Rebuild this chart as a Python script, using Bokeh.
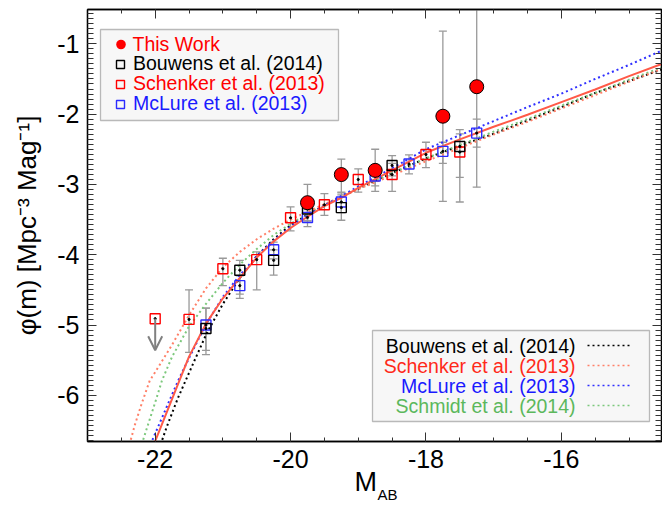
from bokeh.plotting import figure
from bokeh.models import (Range1d, LinearAxis, SingleIntervalTicker, Whisker, TeeHead,
                          ColumnDataSource, Arrow, OpenHead, BoxAnnotation, Title, Label,
                          Legend, LegendItem, PrintfTickFormatter, CustomJSTickFormatter)
from bokeh.embed import file_html
from bokeh.resources import INLINE

FONT = "Liberation Sans"

# ---------------- data ----------------
# This Work
tw_M = [-19.75, -19.25, -18.75, -17.75, -17.25]
tw_phi = [-3.26, -2.86, -2.80, -2.03, -1.61]
tw_up = [-3.00, -2.64, -2.50, -0.82, -0.20]
tw_lo = [-3.52, -3.11, -3.10, -3.24, -3.04]

# Bouwens et al. (2014)
bw_M = [-21.25, -20.75, -20.25, -19.75, -19.25, -18.5, -17.5]
bw_phi = [-5.05, -4.22, -4.08, -3.35, -3.33, -2.73, -2.46]
bw_up = [-4.76, -4.08, -3.93, -3.20, -3.15, -2.59, -2.22]
bw_lo = [-5.42, -4.56, -4.29, -3.52, -3.51, -2.88, -3.25]

# Schenker et al. (2013)
sk_M = [-21.5, -21.0, -20.5, -20.0, -19.5, -19.0, -18.5, -18.0, -17.5]
sk_phi = [-4.92, -4.20, -4.07, -3.475, -3.29, -2.93, -2.86, -2.575, -2.54]
sk_up = [-4.50, -4.05, -3.96, -3.32, -3.13, -2.78, -2.70, -2.40, -2.28]
sk_lo = [-5.39, -4.44, -4.50, -3.66, -3.44, -3.11, -3.10, -2.76, -2.90]
sk_lim_M = [-22.0]
sk_lim_phi = [-4.91]
sk_lim_end = [-5.36]

# McLure et al. (2013)
mc_M = [-21.25, -20.75, -20.25, -19.75, -19.25, -18.75, -18.25, -17.75, -17.25]
mc_phi = [-5.00, -4.44, -3.93, -3.47, -3.25, -2.88, -2.71, -2.53, -2.27]
mc_up = [-4.76, -4.30, -3.82, -3.36, -3.12, -2.76, -2.58, -2.40, -2.07]
mc_lo = [-5.36, -4.62, -4.06, -3.60, -3.40, -3.02, -2.85, -2.70, -2.47]

# curves
fit_M = [-22.02, -21.75, -21.5, -21.25, -21.0, -20.75, -20.5, -20.25, -20.0, -19.75,
         -19.5, -19.25, -19.0, -18.5, -18.0, -17.5, -17.0, -16.5, -16.0, -15.5, -15.0, -14.5]
fit_phi = [-6.70, -6.05, -5.45, -4.98, -4.62, -4.33, -4.04, -3.81, -3.62, -3.46,
           -3.31, -3.19, -3.05, -2.80, -2.55, -2.36, -2.18, -2.01, -1.83, -1.65, -1.46, -1.28]

cb_M = [-21.92, -21.83, -21.66, -21.44, -21.24, -21.0, -20.75, -20.5, -20.25, -20.0, -19.75,
        -19.5, -19.0, -18.5, -18.0, -17.5, -17.0, -16.5, -16.0, -15.5, -15.0, -14.5]
cb_phi = [-6.70, -6.45, -6.03, -5.55, -5.12, -4.70, -4.33, -4.02, -3.78, -3.58, -3.43,
          -3.30, -3.06, -2.84, -2.63, -2.45, -2.28, -2.09, -1.90, -1.70, -1.53, -1.36]

cs_M = [-22.38, -22.3, -22.2, -22.08, -22.0, -21.75, -21.5, -21.25, -21.0, -20.75, -20.5,
        -20.25, -20.0, -19.75, -19.5, -19.0, -18.5, -18.0, -17.5, -17.0, -16.5, -16.0,
        -15.5, -15.0, -14.5]
cs_phi = [-6.70, -6.42, -6.12, -5.79, -5.67, -5.28, -4.86, -4.48, -4.18, -3.96, -3.78,
          -3.63, -3.50, -3.39, -3.28, -3.07, -2.87, -2.67, -2.48, -2.29, -2.11, -1.92,
          -1.73, -1.54, -1.35]

cm_M = [-22.07, -21.81, -21.66, -21.5, -21.25, -21.0, -20.75, -20.5, -20.25, -20.0, -19.75,
        -19.5, -19.0, -18.5, -18.0, -17.5, -17.0, -16.5, -16.0, -15.5, -15.0, -14.5]
cm_phi = [-6.70, -6.12, -5.79, -5.47, -4.99, -4.60, -4.29, -4.02, -3.80, -3.60, -3.44,
          -3.30, -3.03, -2.77, -2.50, -2.30, -2.10, -1.90, -1.71, -1.50, -1.30, -1.09]

cg_M = [-22.2, -22.0, -21.9, -21.75, -21.5, -21.25, -21.0, -20.75, -20.5, -20.25, -20.0,
        -19.75, -19.5, -19.0, -18.5, -18.0, -17.5, -17.0, -16.5, -16.0, -15.5, -15.0, -14.5]
cg_phi = [-6.70, -6.10, -5.79, -5.45, -5.02, -4.70, -4.40, -4.14, -3.92, -3.72, -3.56,
          -3.42, -3.29, -3.06, -2.84, -2.63, -2.44, -2.25, -2.07, -1.88, -1.70, -1.51, -1.33]

legend1_labels = ["This Work", "Bouwens et al. (2014)", "Schenker et al. (2013)", "McLure et al. (2013)"]
legend2_labels = ["Bouwens et al. (2014)", "Schenker et al. (2013)", "McLure et al. (2013)", "Schmidt et al. (2014)"]

# colours
C_RED = "#ff0000"
C_BLUE = "#2b2bff"
C_FIT = "#ff5a48"
C_SALMON = "#ff8068"
C_BLUEDOT = "#3030ff"
C_GREEN = "#7cc87c"
C_GREENTXT = "#5cb85c"
C_ERR = "#999999"

# frame geometry in window pixels (for placing legends)
FRAME_L = 87
FRAME_B = 441
LEG_FS = "19.5px"

# ---------------- figure ----------------
p = figure(width=662, height=508, output_backend="svg", toolbar_location=None,
           x_range=Range1d(-23.0, -14.52), y_range=Range1d(-6.657, -0.512),
           min_border_left=87, min_border_right=1, min_border_top=9, min_border_bottom=67)
p.grid.visible = False
p.outline_line_color = "black"
p.outline_line_width = 1.3

xt = SingleIntervalTicker(interval=2, num_minor_ticks=4)
yt = SingleIntervalTicker(interval=1, num_minor_ticks=14)
bottom = p.below[0]
left = p.left[0]
bottom.ticker = xt
left.ticker = yt
bottom.formatter = PrintfTickFormatter(format="%d")
left.formatter = PrintfTickFormatter(format="%d")
top = LinearAxis(ticker=xt, formatter=CustomJSTickFormatter(code="return ''"))
right = LinearAxis(ticker=yt, formatter=CustomJSTickFormatter(code="return ''"))
p.add_layout(top, "above")
p.add_layout(right, "right")

for ax in [bottom, top]:
    ax.minor_tick_in = 4
for ax in [left, right]:
    ax.minor_tick_in = 6
for ax in [bottom, left, top, right]:
    ax.major_tick_in = 9
    ax.major_tick_out = 0
    ax.minor_tick_out = 0
    ax.axis_line_color = "black"
    ax.axis_line_width = 1.3
    ax.major_tick_line_color = "#333333"
    ax.minor_tick_line_color = "#333333"
    ax.major_label_text_font = FONT
    ax.major_label_text_font_size = "25px"
    ax.major_label_text_color = "black"
    ax.major_label_standoff = 8
for ax in [top, right]:
    ax.major_label_text_font_size = "1px"
    ax.major_label_standoff = 0

left.axis_label = "\u03c6(m) [Mpc\u207b\u00b3 Mag\u207b\u00b9]"
left.axis_label_text_font = FONT
left.axis_label_text_font_size = "26px"
left.axis_label_text_font_style = "normal"
left.axis_label_text_color = "black"
left.axis_label_standoff = 12

# x label "M" with subscript "AB" (two titles stacked below the axis)
p.add_layout(Title(text="M", align="left", offset=267, standoff=-11, text_font=FONT,
                   text_font_size="27px", text_font_style="normal", text_color="black"), "below")
p.add_layout(Title(text="AB", align="left", offset=290, standoff=-22, text_font=FONT,
                   text_font_size="15px", text_font_style="normal", text_color="black"), "below")

# ---------------- curves ----------------
r_cb = p.line(cb_M, cb_phi, line_color="black", line_width=2, line_dash="2 3")
r_cg = p.line(cg_M, cg_phi, line_color=C_GREEN, line_width=2, line_dash="2 3")
r_cs = p.line(cs_M, cs_phi, line_color=C_SALMON, line_width=2, line_dash="2 3")
r_cm = p.line(cm_M, cm_phi, line_color=C_BLUEDOT, line_width=2, line_dash="2 3")
p.line(fit_M, fit_phi, line_color=C_FIT, line_width=2)

# ---------------- error bars ----------------
def add_err(xs, up, lo):
    src = ColumnDataSource(dict(x=xs, up=up, lo=lo))
    w = Whisker(source=src, base="x", upper="up", lower="lo", line_color=C_ERR, line_width=1.3,
                upper_head=TeeHead(size=8, line_color=C_ERR, line_width=1.3),
                lower_head=TeeHead(size=8, line_color=C_ERR, line_width=1.3))
    p.add_layout(w)

add_err(mc_M, mc_up, mc_lo)
add_err(sk_M, sk_up, sk_lo)
add_err(bw_M, bw_up, bw_lo)
add_err(tw_M, tw_up, tw_lo)

p.add_layout(Arrow(x_start=sk_lim_M[0], y_start=sk_lim_phi[0], x_end=sk_lim_M[0], y_end=sk_lim_end[0],
                   line_color="#808080", line_width=2,
                   end=OpenHead(size=14, line_color="#808080", line_width=2)))

# ---------------- points ----------------
r_mc = p.scatter(mc_M, mc_phi, marker="square", size=10, fill_color=None, line_color=C_BLUE, line_width=1.4)
r_sk = p.scatter(sk_M, sk_phi, marker="square", size=10, fill_color=None, line_color=C_RED, line_width=1.4)
p.scatter(sk_lim_M, sk_lim_phi, marker="square", size=10, fill_color=None, line_color=C_RED, line_width=1.4)
r_bw = p.scatter(bw_M, bw_phi, marker="square", size=10, fill_color=None, line_color="black", line_width=1.4)
p.scatter(mc_M + sk_M + sk_lim_M + bw_M, mc_phi + sk_phi + sk_lim_phi + bw_phi,
          marker="circle", size=2.2, color="black")
# plain red disc underneath (used for the legend key, which has no outline)
r_tw_key = p.scatter(tw_M, tw_phi, marker="circle", size=13, fill_color=C_RED, line_color=None)
r_tw = p.scatter(tw_M, tw_phi, marker="circle", size=14, fill_color=C_RED, line_color="black", line_width=1)

# ---------------- legend 1 (top left) ----------------
p.add_layout(BoxAnnotation(left=100 - FRAME_L, right=338 - FRAME_L, top=FRAME_B - 29, bottom=FRAME_B - 120,
                           left_units="screen", right_units="screen",
                           top_units="screen", bottom_units="screen",
                           fill_color="#f7f7f7", fill_alpha=1.0,
                           line_color="#222222", line_width=1.3, level="annotation"))
ROW_H = 24
l1_colors = [C_RED, "black", C_RED, "#1a1aff"]
l1_rows = [44, 63.5, 83.5, 103.5]
l1_gw = [25, 20, 20, 20]
for t, c, r, yc, gw in zip(legend1_labels, l1_colors, [r_tw_key, r_bw, r_sk, r_mc], l1_rows, l1_gw):
    lg = Legend(items=[LegendItem(label=t, renderers=[r])],
                location=(120 - gw / 2 - FRAME_L, FRAME_B - (yc + ROW_H / 2)),
                orientation="vertical", glyph_width=gw, glyph_height=ROW_H, label_height=ROW_H,
                label_standoff=int(round(133 - (120 + gw / 2))), spacing=0, padding=0, margin=0,
                border_line_color=None, background_fill_alpha=0,
                label_text_font=FONT, label_text_font_size=LEG_FS, label_text_color=c)
    p.add_layout(lg)

# ---------------- legend 2 (bottom right): right-aligned text, dotted sample on the right ----
p.add_layout(BoxAnnotation(left=372 - FRAME_L, right=649 - FRAME_L, top=FRAME_B - 330, bottom=FRAME_B - 421,
                           left_units="screen", right_units="screen",
                           top_units="screen", bottom_units="screen",
                           fill_color="#f7f7f7", fill_alpha=1.0,
                           line_color="#222222", line_width=1.3, level="annotation"))
l2_colors = ["black", "#ff2a1a", "#1a1aff", C_GREENTXT]
l2_lines = ["black", C_SALMON, C_BLUEDOT, C_GREEN]
l2_rows = [345, 365, 385, 405]
SAMPLE_X0, SAMPLE_X1, TEXT_RIGHT = 587, 629, 575
for t, c, lc, yc in zip(legend2_labels, l2_colors, l2_lines, l2_rows):
    p.add_layout(Label(x=TEXT_RIGHT - FRAME_L, y=FRAME_B - yc, x_units="screen", y_units="screen",
                       text=t, text_font=FONT, text_font_size=LEG_FS, text_color=c,
                       text_align="right", text_baseline="middle"))
    p.add_layout(Arrow(x_start=SAMPLE_X0 - FRAME_L, y_start=FRAME_B - yc,
                       x_end=SAMPLE_X1 - FRAME_L, y_end=FRAME_B - yc,
                       start_units="screen", end_units="screen", start=None, end=None,
                       line_color=lc, line_width=1.6, line_dash="2 3"))

open("out.html", "w").write(file_html(p, INLINE))
